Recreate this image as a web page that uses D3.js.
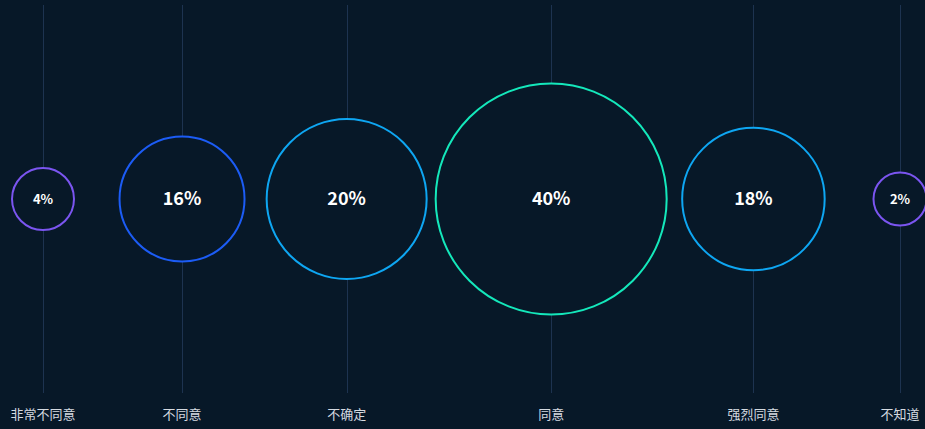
<!DOCTYPE html>
<meta charset="utf-8">
<script src="https://cdn.jsdelivr.net/npm/d3@7/dist/d3.min.js"></script>
<style>
  html, body { margin: 0; padding: 0; background: #071828; }
  svg { display: block; font-family: "Noto Sans CJK SC", "Noto Sans", sans-serif; }
</style>
<svg id="chart"></svg>
<script>
  // survey answers, left to right
  var categories = ['非常不同意', '不同意', '不确定', '同意', '强烈同意', '不知道']
  var values = [4, 16, 20, 40, 18, 2]
  var ringColors = ['#7b55f0', '#1c5cf5', '#0ea6f2', '#14e8bb', '#0ea6f2', '#7b55f0']

  var width = 925, height = 429
  var cy = 199

  var svg = d3.select('#chart').attr('width', width).attr('height', height)

  // radius grows with the share
  var r = d3.scaleLinear().domain([0, 4, 16, 20, 40]).range([22, 31, 62.5, 80, 115.5])

  // pack bubbles side by side: bigger neighbour + a bit of the smaller one + gap
  var layoutX = [0]
  for (var i = 1; i < values.length; i++) {
    var a = r(values[i - 1]), b = r(values[i])
    layoutX.push(layoutX[i - 1] + Math.max(a, b) + 0.26 * Math.min(a, b) + 69)
  }
  var x = d3.scaleLinear().domain([0, layoutX[layoutX.length - 1]]).range([43, 900])

  var nodes = categories.map(function (c, i) {
    return {name: c, value: values[i], color: ringColors[i], lx: layoutX[i]}
  })

  // vertical guide lines
  svg.selectAll('line.grid').data(nodes).enter().append('line')
      .attr('class', 'grid')
      .attr('x1', function (d) { return Math.round(x(d.lx)) + 0.5 })
      .attr('x2', function (d) { return Math.round(x(d.lx)) + 0.5 })
      .attr('y1', 5).attr('y2', 393)
      .attr('stroke', '#1d3350').attr('stroke-width', 1)

  // bubbles
  svg.selectAll('circle').data(nodes).enter().append('circle')
      .attr('cx', function (d) { return x(d.lx) })
      .attr('cy', cy)
      .attr('r', function (d) { return r(d.value) })
      .attr('fill', '#071828')
      .attr('stroke', function (d) { return d.color })
      .attr('stroke-width', 2)

  // percentages
  svg.selectAll('text.pct').data(nodes).enter().append('text')
      .attr('class', 'pct')
      .attr('x', function (d) { return x(d.lx) })
      .attr('y', cy)
      .attr('dy', '0.35em')
      .attr('text-anchor', 'middle')
      .attr('fill', '#ffffff')
      .attr('font-weight', 'bold')
      .attr('font-size', function (d) { return d.value < 10 ? 13 : 18 })
      .text(function (d) { return d.value + '%' })

  // category labels
  svg.selectAll('text.cat').data(nodes).enter().append('text')
      .attr('class', 'cat')
      .attr('x', function (d) { return x(d.lx) })
      .attr('y', 419)
      .attr('text-anchor', 'middle')
      .attr('fill', '#d5dae0')
      .attr('font-size', 13)
      .text(function (d) { return d.name })
</script>
